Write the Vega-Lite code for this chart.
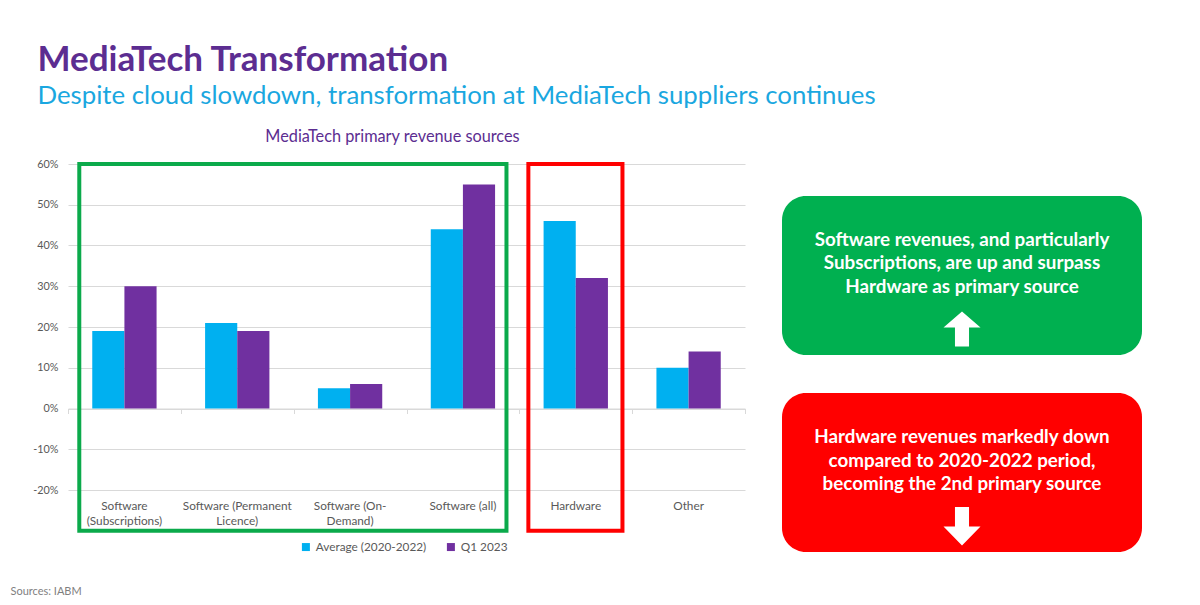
{
  "$schema": "https://vega.github.io/schema/vega-lite/v6.json",
  "background": "white",
  "padding": {"left": 10, "top": 43, "right": 5, "bottom": 5},
  "config": {"view": {"stroke": null}, "font": "Lato"},
  "title": {
    "text": "MediaTech Transformation",
    "subtitle": "Despite cloud slowdown, transformation at MediaTech suppliers continues",
    "anchor": "start",
    "dx": 27,
    "font": "Lato",
    "fontSize": 35,
    "fontWeight": "bold",
    "color": "#5C2D91",
    "subtitleFont": "Lato",
    "subtitleFontSize": 25.8,
    "subtitleColor": "#1AA7E0",
    "subtitlePadding": 6,
    "offset": 20
  },
  "datasets": {
    "bars": [
      {"category": "Software (Subscriptions)", "series": "Average (2020-2022)", "value": 0.19},
      {"category": "Software (Subscriptions)", "series": "Q1 2023", "value": 0.30},
      {"category": "Software (Permanent Licence)", "series": "Average (2020-2022)", "value": 0.21},
      {"category": "Software (Permanent Licence)", "series": "Q1 2023", "value": 0.19},
      {"category": "Software (On-Demand)", "series": "Average (2020-2022)", "value": 0.05},
      {"category": "Software (On-Demand)", "series": "Q1 2023", "value": 0.06},
      {"category": "Software (all)", "series": "Average (2020-2022)", "value": 0.44},
      {"category": "Software (all)", "series": "Q1 2023", "value": 0.55},
      {"category": "Hardware", "series": "Average (2020-2022)", "value": 0.46},
      {"category": "Hardware", "series": "Q1 2023", "value": 0.32},
      {"category": "Other", "series": "Average (2020-2022)", "value": 0.10},
      {"category": "Other", "series": "Q1 2023", "value": 0.14}
    ],
    "regions": [
      {"region": "Software", "start": 0.1, "end": 3.886, "top": 0.6, "bottom": -0.3},
      {"region": "Hardware", "start": 4.08, "end": 4.914, "top": 0.6, "bottom": -0.3}
    ],
    "notes": [
      {"tone": "positive", "message": "Software revenues, and particularly|Subscriptions, are up and surpass|Hardware as primary source"},
      {"tone": "negative", "message": "Hardware revenues markedly down|compared to 2020-2022 period,|becoming the 2nd primary source"}
    ]
  },
  "spacing": 36,
  "hconcat": [
    {
      "width": 677,
      "height": 326,
      "title": {
        "text": "MediaTech primary revenue sources",
        "font": "Lato",
        "fontSize": 16.3,
        "fontWeight": "normal",
        "color": "#5C2D91",
        "frame": "group",
        "anchor": "middle",
        "dx": -14,
        "offset": 12.5
      },
      "resolve": {"scale": {"x": "independent"}, "axis": {"x": "independent"}},
      "layer": [
        {
          "data": {"name": "bars"},
          "mark": {"type": "bar"},
          "encoding": {
            "x": {
              "field": "category",
              "type": "nominal",
              "sort": ["Software (Subscriptions)", "Software (Permanent Licence)", "Software (On-Demand)", "Software (all)", "Hardware", "Other"],
              "scale": {"paddingInner": 0.43, "paddingOuter": 0.215},
              "axis": {
                "title": null,
                "orient": "bottom",
                "domain": false,
                "ticks": false,
                "tickSize": 0,
                "labelPadding": 10,
                "labelAngle": 0,
                "labelFont": "Lato",
                "labelFontSize": 11.8,
                "labelColor": "#595959",
                "labelLineHeight": 15,
                "labelExpr": "datum.label == 'Software (Subscriptions)' ? ['Software', '(Subscriptions)'] : datum.label == 'Software (Permanent Licence)' ? ['Software (Permanent', 'Licence)'] : datum.label == 'Software (On-Demand)' ? ['Software (On-', 'Demand)'] : datum.label"
              }
            },
            "xOffset": {"field": "series", "type": "nominal", "sort": ["Average (2020-2022)", "Q1 2023"]},
            "y": {
              "field": "value",
              "type": "quantitative",
              "scale": {"domain": [-0.2, 0.6], "nice": false},
              "axis": {
                "title": null,
                "values": [-0.2, -0.1, 0, 0.1, 0.2, 0.3, 0.4, 0.5, 0.6],
                "format": ".0%",
                "labelExpr": "replace(datum.label, '\u2212', '-')",
                "grid": true,
                "gridColor": "#D9D9D9",
                "domain": false,
                "ticks": false,
                "tickSize": 0,
                "labelPadding": 10,
                "labelFont": "Lato",
                "labelFontSize": 10.8,
                "labelColor": "#595959"
              }
            },
            "color": {
              "field": "series",
              "type": "nominal",
              "scale": {"domain": ["Average (2020-2022)", "Q1 2023"], "range": ["#00B0F0", "#7030A0"]},
              "legend": {
                "title": null,
                "orient": "none",
                "legendX": 232,
                "legendY": 377,
                "direction": "horizontal",
                "symbolType": "square",
                "symbolSize": 64,
                "symbolStrokeWidth": 0,
                "labelFont": "Lato",
                "labelFontSize": 11.8,
                "labelColor": "#595959",
                "columnPadding": 18
              }
            }
          }
        },
        {
          "layer": [
            {
              "data": {"name": "regions"},
              "mark": {"type": "rect", "filled": false, "strokeWidth": 4},
              "encoding": {
                "x": {
                  "field": "start",
                  "type": "quantitative",
                  "title": null,
                  "scale": {"domain": [0, 6], "nice": false, "zero": false},
                  "axis": {
                    "title": null,
                    "orient": "bottom",
                    "offset": -81.5,
                    "values": [0, 1, 2, 3, 4, 5, 6],
                    "labels": false,
                    "grid": false,
                    "domain": true,
                    "domainColor": "#D9D9D9",
                    "ticks": true,
                    "tickColor": "#D9D9D9",
                    "tickSize": 5
                  }
                },
                "x2": {"field": "end"},
                "y": {"field": "top", "type": "quantitative", "scale": {"domain": [-0.2, 0.6], "nice": false}},
                "y2": {"field": "bottom"},
                "stroke": {
                  "field": "region",
                  "type": "nominal",
                  "scale": {"domain": ["Software", "Hardware"], "range": ["#0BAA4B", "#FF0000"]},
                  "legend": null
                }
              }
            },
            {
              "data": {"values": [{"note": "Sources: IABM"}]},
              "mark": {"type": "text", "align": "left", "baseline": "middle", "font": "Lato", "fontSize": 11, "color": "#7F7F7F"},
              "encoding": {
                "x": {"datum": -0.51, "type": "quantitative", "title": null},
                "y": {"datum": -0.451, "type": "quantitative", "title": null},
                "text": {"field": "note"}
              }
            }
          ]
        }
      ]
    },
    {
      "width": 360,
      "height": 388,
      "data": {"name": "notes"},
      "encoding": {
        "y": {
          "field": "tone",
          "type": "nominal",
          "sort": ["positive", "negative"],
          "scale": {"paddingInner": 0.193, "paddingOuter": 0, "range": [32, 388]},
          "axis": null
        }
      },
      "layer": [
        {
          "mark": {"type": "rect", "cornerRadius": 24},
          "encoding": {
            "fill": {
              "field": "tone",
              "type": "nominal",
              "scale": {"domain": ["positive", "negative"], "range": ["#00B050", "#FF0000"]},
              "legend": null
            }
          }
        },
        {
          "mark": {"type": "text", "lineBreak": "|", "align": "center", "baseline": "middle", "dy": -35.5, "font": "Lato", "fontSize": 18.8, "fontWeight": "bold", "color": "white", "lineHeight": 23.5},
          "encoding": {"text": {"field": "message"}}
        },
        {
          "mark": {"type": "point", "filled": true, "color": "white", "opacity": 1, "strokeWidth": 0, "size": 1369},
          "encoding": {
            "y": {"field": "tone", "type": "nominal", "sort": ["positive", "negative"], "bandPosition": 0.84, "axis": null},
            "shape": {
              "field": "tone",
              "type": "nominal",
              "scale": {
                "domain": ["positive", "negative"],
                "range": ["M0,-0.97L1,-0.11L0.38,-0.11L0.38,0.92L-0.38,0.92L-0.38,-0.11L-1,-0.11Z", "M-0.38,-1.06L0.38,-1.06L0.38,0L1,0L0,1.03L-1,0L-0.38,0Z"]
              },
              "legend": null
            }
          }
        }
      ]
    }
  ]
}
